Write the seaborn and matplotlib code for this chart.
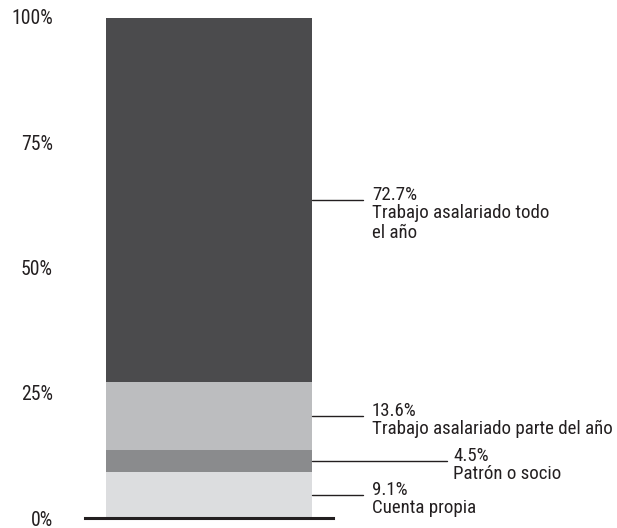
import matplotlib
matplotlib.use("Agg")
import matplotlib.pyplot as plt
import seaborn as sns
import pandas as pd

# ---------------- Data ----------------
categories = ["Cuenta propia", "Patrón o socio",
              "Trabajo asalariado parte del año", "Trabajo asalariado todo\nel año"]
values = [9.1, 4.5, 13.6, 72.7]
colors = ["#dcdddf", "#8a8b8d", "#bcbdbf", "#4b4b4d"]
ytick_values = [0, 25, 50, 75, 100]
ytick_labels = ["0%", "25%", "50%", "75%", "100%"]

# ---------------- Style ----------------
sns.set_style("white")
plt.rcParams["font.family"] = ["Roboto Condensed", "Liberation Sans Narrow", "DejaVu Sans"]
plt.rcParams["font.stretch"] = "condensed"
TXT = "#231f20"
FS = 13.6

fig = plt.figure(figsize=(6.17, 5.28), dpi=100)
ax = fig.add_axes([85 / 617, 10 / 528, 248 / 617, 501 / 528])

# stacked bar: draw cumulative heights, tallest first
df = pd.DataFrame({"cat": categories, "val": values, "color": colors})
df["top"] = df["val"].cumsum()
df["mid"] = df["top"] - df["val"] / 2
for i in reversed(range(len(df))):
    sns.barplot(x=["total"], y=[df["top"][i]], color=df["color"][i],
                width=0.827, saturation=1, ax=ax, edgecolor="none")

ax.set_xlim(-0.5, 0.5)
ax.set_ylim(0, 100)
ax.set_xlabel("")
ax.set_ylabel("")
ax.set_xticks([])
ax.set_yticks(ytick_values)
ax.set_yticklabels(ytick_labels, fontsize=FS + 0.6, color=TXT)
ax.tick_params(axis="y", length=0, pad=23)
for s in ["top", "right", "left"]:
    ax.spines[s].set_visible(False)
ax.spines["bottom"].set_color("#231f20")
ax.spines["bottom"].set_linewidth(2.2)

# ---------------- Leader lines + labels ----------------
bar_edge = 0.827 / 2
line_end = [0.621, 0.96, 0.621, 0.621]
text_x = [0.657, 0.985, 0.657, 0.657]
for i in range(len(df)):
    y = df["mid"][i]
    ax.plot([bar_edge, line_end[i]], [y, y], color=TXT, lw=1.0, clip_on=False)
    ax.text(text_x[i], y, f"{df['val'][i]:.1f}%", fontsize=FS, color=TXT,
            va="baseline", ha="left", clip_on=False)
    ax.annotate(df["cat"][i], xy=(text_x[i], y), xycoords="data",
                xytext=(0, -3), textcoords="offset points",
                fontsize=FS, color=TXT, va="top", ha="left", linespacing=1.15,
                annotation_clip=False)

fig.savefig("out.png", dpi=100)
